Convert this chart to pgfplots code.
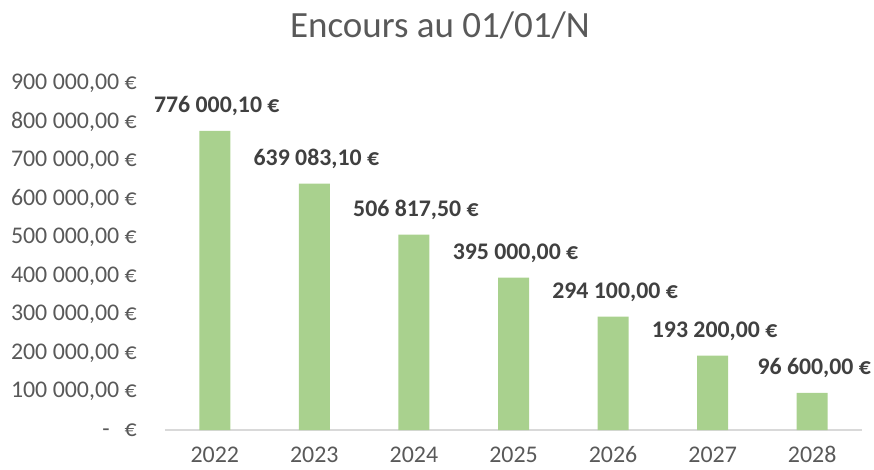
\documentclass[border=0pt]{standalone}
\usepackage{pgfplots}
\pgfplotsset{compat=1.18}
\usepackage{pgfplotstable}
\usepackage{fontspec}
\setmainfont{Carlito}
\definecolor{barc}{HTML}{A9D18E}
\definecolor{txt}{HTML}{595959}
\definecolor{lbl}{HTML}{404040}
\definecolor{axl}{HTML}{D9D9D9}

\pgfplotstableread[col sep=semicolon]{
x;y;lab
0;776000.10;776 000,10 €
1;639083.10;639 083,10 €
2;506817.50;506 817,50 €
3;395000.00;395 000,00 €
4;294100.00;294 100,00 €
5;193200.00;193 200,00 €
6;96600.00;96 600,00 €
}\data

\begin{document}
\begin{tikzpicture}
\begin{axis}[
  scale only axis, width=697pt, height=347pt,
  xmin=-0.5, xmax=6.5, ymin=0, ymax=900000,
  axis x line*=bottom, axis y line*=left,
  y axis line style={draw=none},
  x axis line style={draw=axl, line width=1.3pt},
  major tick length=0pt,
  scaled y ticks=false,
  ytick={0,100000,200000,300000,400000,500000,600000,700000,800000,900000},
  yticklabels={{-\hspace{15pt}€},{100 000,00 €},{200 000,00 €},{300 000,00 €},{400 000,00 €},{500 000,00 €},{600 000,00 €},{700 000,00 €},{800 000,00 €},{900 000,00 €}},
  xtick={0,1,2,3,4,5,6},
  xticklabels={2022,2023,2024,2025,2026,2027,2028},
  tick label style={font=\fontsize{23.9}{28}\selectfont, text=txt, inner sep=0pt},
  yticklabel style={anchor=east, xshift=-28pt},
  xticklabel style={anchor=base, yshift=-32.5pt},
  ybar, bar width=31pt,
  nodes near coords={\pgfplotspointmeta},
  point meta=explicit symbolic,
  every node near coord/.append style={font=\bfseries\fontsize{23.8}{28}\selectfont, text=lbl, anchor=base, yshift=18pt, xshift=2pt},
]
\addplot[fill=barc, draw=none] table[x=x, y=y, meta=lab]{\data};
\coordinate (SW) at (rel axis cs:0,0);
\end{axis}
\coordinate (O) at ([shift={(-165pt,-39pt)}]SW);
\node[anchor=base, font=\fontsize{37}{44}\selectfont, text=txt, inner sep=0pt] at ([shift={(440pt,431pt)}]O) {Encours au 01/01/N};
\pgfresetboundingbox
\useasboundingbox (O) rectangle ([shift={(874pt,469pt)}]O);
\end{tikzpicture}
\end{document}
